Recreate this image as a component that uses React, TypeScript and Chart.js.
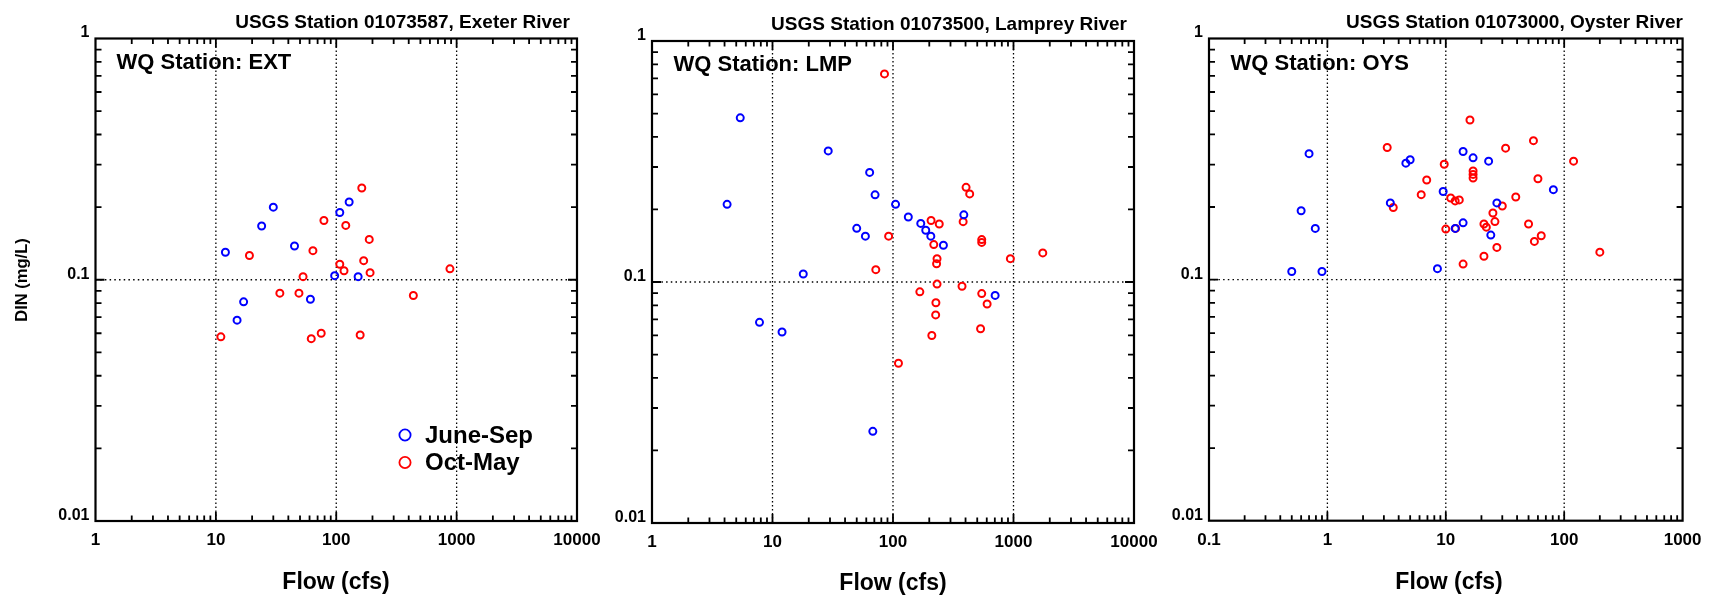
import React, { useEffect, useRef } from 'react';
import { Chart, registerables } from 'chart.js';

Chart.register(...registerables);

// ---------------- Data ----------------
// Exeter River (WQ station EXT)
const extJuneSepFlow = [12, 30, 24, 45, 107, 128, 97, 152, 17, 15, 61];
const extJuneSepDin = [0.13, 0.2, 0.167, 0.138, 0.19, 0.21, 0.104, 0.103, 0.081, 0.068, 0.083];
const extOctMayFlow = [163, 79, 120, 188, 19, 64, 107, 169, 116, 191, 53, 880, 34, 49, 437, 11, 62, 75, 158];
const extOctMayDin = [0.24, 0.176, 0.168, 0.147, 0.126, 0.132, 0.116, 0.12, 0.109, 0.107, 0.103, 0.111, 0.088, 0.088, 0.086, 0.058, 0.057, 0.06, 0.059];

// Lamprey River (WQ station LMP)
const lmpJuneSepFlow = [5.4, 4.2, 29, 64, 71, 105, 134, 170, 187, 206, 262, 387, 50, 59, 18, 704, 7.8, 12, 68];
const lmpJuneSepDin = [0.48, 0.21, 0.35, 0.285, 0.23, 0.21, 0.186, 0.175, 0.164, 0.155, 0.142, 0.19, 0.167, 0.155, 0.108, 0.088, 0.068, 0.062, 0.024];
const lmpOctMayFlow = [85, 404, 433, 207, 242, 382, 92, 218, 545, 545, 232, 230, 942, 1750, 72, 232, 374, 167, 545, 227, 604, 226, 533, 210, 111];
const lmpOctMayDin = [0.73, 0.247, 0.232, 0.18, 0.174, 0.178, 0.155, 0.143, 0.15, 0.146, 0.125, 0.119, 0.125, 0.132, 0.1125, 0.098, 0.096, 0.091, 0.0895, 0.082, 0.081, 0.073, 0.064, 0.06, 0.046];

// Oyster River (WQ station OYS)
const oysJuneSepFlow = [0.7, 0.6, 0.79, 0.5, 0.9, 3.4, 4.6, 5.0, 9.5, 8.5, 14, 17, 23, 14, 12, 27, 24, 81];
const oysJuneSepDin = [0.333, 0.193, 0.163, 0.108, 0.108, 0.208, 0.304, 0.314, 0.232, 0.111, 0.34, 0.32, 0.31, 0.172, 0.163, 0.208, 0.153, 0.236];
const oysOctMayFlow = [3.2, 3.6, 6.2, 6.9, 9.7, 10, 11, 12, 13, 12.1, 14, 16, 17, 17, 17, 21, 22, 21, 25, 26, 27, 30, 32, 39, 50, 55, 60, 56, 64, 120, 200];
const oysOctMayDin = [0.353, 0.199, 0.225, 0.259, 0.301, 0.162, 0.218, 0.212, 0.214, 0.163, 0.116, 0.459, 0.282, 0.273, 0.264, 0.17, 0.165, 0.125, 0.189, 0.174, 0.136, 0.202, 0.351, 0.22, 0.17, 0.377, 0.262, 0.144, 0.152, 0.31, 0.13];

// Axis ticks
const flowTicksA = [1, 10, 100, 1000, 10000];
const flowTickLabelsA = ['1', '10', '100', '1000', '10000'];
const flowTicksB = [0.1, 1, 10, 100, 1000];
const flowTickLabelsB = ['0.1', '1', '10', '100', '1000'];
const dinTicks = [0.01, 0.1, 1];
const dinTickLabels = ['0.01', '0.1', '1'];

const seriesNames = ['June-Sep', 'Oct-May'];
const seriesColors = ['#0000ff', '#ff0000'];

// ---------------- Layout / style ----------------
const W = 1711;
const H = 597;
const FAMILY = '"Liberation Sans", Arial, Helvetica, sans-serif';

type PanelCfg = {
  title: string;
  wq: string;
  juneFlow: number[];
  juneDin: number[];
  octFlow: number[];
  octDin: number[];
  xTicks: number[];
  xLabels: string[];
  area: { left: number; right: number; top: number; bottom: number };
  yAxisWidth: number;
  titleRight: number;
  titleY: number;
  wqLeft: number;
  wqY: number;
  xTitleX: number;
  xTitleY: number;
  yTitle: boolean;
  legend: boolean;
};

const panels: PanelCfg[] = [
  {
    title: 'USGS Station 01073587, Exeter River',
    wq: 'WQ Station: EXT',
    juneFlow: extJuneSepFlow, juneDin: extJuneSepDin,
    octFlow: extOctMayFlow, octDin: extOctMayDin,
    xTicks: flowTicksA, xLabels: flowTickLabelsA,
    area: { left: 95.5, right: 577, top: 38.5, bottom: 521 },
    yAxisWidth: 95.5,
    titleRight: 570, titleY: 28,
    wqLeft: 116.5, wqY: 69.2,
    xTitleX: 336, xTitleY: 589,
    yTitle: true, legend: true,
  },
  {
    title: 'USGS Station 01073500, Lamprey River',
    wq: 'WQ Station: LMP',
    juneFlow: lmpJuneSepFlow, juneDin: lmpJuneSepDin,
    octFlow: lmpOctMayFlow, octDin: lmpOctMayDin,
    xTicks: flowTicksA, xLabels: flowTickLabelsA,
    area: { left: 652, right: 1134, top: 41, bottom: 523 },
    yAxisWidth: 60,
    titleRight: 1127, titleY: 30,
    wqLeft: 673.5, wqY: 71.3,
    xTitleX: 893, xTitleY: 590,
    yTitle: false, legend: false,
  },
  {
    title: 'USGS Station 01073000, Oyster River',
    wq: 'WQ Station: OYS',
    juneFlow: oysJuneSepFlow, juneDin: oysJuneSepDin,
    octFlow: oysOctMayFlow, octDin: oysOctMayDin,
    xTicks: flowTicksB, xLabels: flowTickLabelsB,
    area: { left: 1209, right: 1689.5, top: 38.5, bottom: 520.7 },
    yAxisWidth: 60,
    titleRight: 1683, titleY: 27.5,
    wqLeft: 1230.5, wqY: 69.5,
    xTitleX: 1449, xTitleY: 589,
    yTitle: false, legend: false,
  },
];

function logSteps(min: number, max: number) {
  const out: { v: number; major: boolean }[] = [];
  let d = min;
  let guard = 0;
  while (d < max * 0.999 && guard < 20) {
    for (let m = 1; m <= 9; m++) out.push({ v: m * d, major: m === 1 });
    d *= 10;
    guard++;
  }
  return out;
}

function makeFramePlugin(cfg: PanelCfg) {
  const xMin = cfg.xTicks[0];
  const xMax = cfg.xTicks[cfg.xTicks.length - 1];
  const yMin = dinTicks[0];
  const yMax = dinTicks[dinTicks.length - 1];
  const xSteps = logSteps(xMin, xMax);
  const ySteps = logSteps(yMin, yMax);
  return {
    id: 'frame',
    beforeDatasetsDraw(chart: any) {
      const { ctx, chartArea: a } = chart;
      const xs = chart.scales.x;
      const ys = chart.scales.y;
      ctx.save();
      ctx.strokeStyle = '#000';
      ctx.lineWidth = 1.3;
      ctx.setLineDash([1.4, 2.6]);
      ctx.beginPath();
      for (const v of cfg.xTicks) {
        const px = xs.getPixelForValue(v);
        if (px <= a.left + 2 || px >= a.right - 2) continue;
        ctx.moveTo(px, a.top);
        ctx.lineTo(px, a.bottom);
      }
      ctx.stroke();
      ctx.setLineDash([1.5, 3.2]);
      ctx.beginPath();
      for (const v of dinTicks) {
        const py = ys.getPixelForValue(v);
        if (py <= a.top + 2 || py >= a.bottom - 2) continue;
        ctx.moveTo(a.left, py);
        ctx.lineTo(a.right, py);
      }
      ctx.stroke();
      ctx.restore();
    },
    afterDatasetsDraw(chart: any) {
      const { ctx, chartArea: a } = chart;
      const xs = chart.scales.x;
      const ys = chart.scales.y;
      ctx.save();
      ctx.strokeStyle = '#000';
      ctx.lineWidth = 1.8;
      ctx.setLineDash([]);
      ctx.beginPath();
      for (const t of xSteps) {
        const px = xs.getPixelForValue(t.v);
        if (px <= a.left + 2 || px >= a.right - 2) continue;
        const len = t.major ? 9 : 5.5;
        ctx.moveTo(px, a.bottom);
        ctx.lineTo(px, a.bottom - len);
        ctx.moveTo(px, a.top);
        ctx.lineTo(px, a.top + len);
      }
      for (const t of ySteps) {
        const py = ys.getPixelForValue(t.v);
        if (py <= a.top + 2 || py >= a.bottom - 2) continue;
        const len = t.major ? 9 : 6;
        ctx.moveTo(a.left, py);
        ctx.lineTo(a.left + len, py);
        ctx.moveTo(a.right, py);
        ctx.lineTo(a.right - len, py);
      }
      ctx.stroke();
      ctx.lineWidth = 2.2;
      ctx.strokeRect(a.left, a.top, a.right - a.left, a.bottom - a.top);
      ctx.restore();
    },
    afterDraw(chart: any) {
      const { ctx } = chart;
      ctx.save();
      ctx.fillStyle = '#000';
      ctx.textBaseline = 'alphabetic';
      // panel title
      ctx.font = `bold 19px ${FAMILY}`;
      ctx.textAlign = 'right';
      ctx.fillText(cfg.title, cfg.titleRight, cfg.titleY);
      // WQ station label
      ctx.font = `bold 22px ${FAMILY}`;
      ctx.textAlign = 'left';
      ctx.fillText(cfg.wq, cfg.wqLeft, cfg.wqY);
      // x axis title
      ctx.font = `bold 23px ${FAMILY}`;
      ctx.textAlign = 'center';
      ctx.fillText('Flow (cfs)', cfg.xTitleX, cfg.xTitleY);
      // y axis title
      if (cfg.yTitle) {
        ctx.save();
        ctx.translate(26.5, 280);
        ctx.rotate(-Math.PI / 2);
        ctx.font = `bold 16.5px ${FAMILY}`;
        ctx.textAlign = 'center';
        ctx.fillText('DIN (mg/L)', 0, 0);
        ctx.restore();
      }
      // legend
      if (cfg.legend) {
        const rows = [
          { cy: 435, base: 442.5 },
          { cy: 462.5, base: 469.5 },
        ];
        rows.forEach((r, i) => {
          ctx.beginPath();
          ctx.strokeStyle = seriesColors[i];
          ctx.lineWidth = 1.8;
          ctx.arc(405, r.cy, 5.6, 0, Math.PI * 2);
          ctx.stroke();
          ctx.fillStyle = '#000';
          ctx.font = `bold 24px ${FAMILY}`;
          ctx.textAlign = 'left';
          ctx.fillText(seriesNames[i], 425, r.base);
        });
      }
      ctx.restore();
    },
  };
}

function Panel({ cfg }: { cfg: PanelCfg }) {
  const ref = useRef<HTMLCanvasElement>(null);
  useEffect(() => {
    const canvas = ref.current;
    if (!canvas) return;
    const xMin = cfg.xTicks[0];
    const xMax = cfg.xTicks[cfg.xTicks.length - 1];
    const xTickFont = { family: FAMILY, size: 17, weight: 'bold' as const };
    const yTickFont = { family: FAMILY, size: 16, weight: 'bold' as const };
    const mk = (fx: number[], fy: number[]) => fx.map((x, i) => ({ x, y: fy[i] }));
    const chart = new Chart(canvas, {
      type: 'scatter',
      data: {
        datasets: [
          {
            label: seriesNames[0],
            data: mk(cfg.juneFlow, cfg.juneDin),
            borderColor: seriesColors[0],
            backgroundColor: 'rgba(0,0,0,0)',
            pointRadius: 3.5,
            pointBorderWidth: 2,
            pointHoverRadius: 3.5,
          },
          {
            label: seriesNames[1],
            data: mk(cfg.octFlow, cfg.octDin),
            borderColor: seriesColors[1],
            backgroundColor: 'rgba(0,0,0,0)',
            pointRadius: 3.5,
            pointBorderWidth: 2,
            pointHoverRadius: 3.5,
          },
        ],
      },
      options: {
        responsive: false,
        animation: false,
        devicePixelRatio: 1,
        events: [],
        layout: {
          padding: {
            left: cfg.area.left - cfg.yAxisWidth,
            right: W - cfg.area.right,
            top: cfg.area.top,
            bottom: 0,
          },
        },
        scales: {
          x: {
            type: 'logarithmic',
            position: 'bottom',
            min: xMin,
            max: xMax,
            afterBuildTicks: (s: any) => {
              s.ticks = cfg.xTicks.map((v) => ({ value: v }));
            },
            afterFit: (s: any) => {
              s.height = H - cfg.area.bottom;
            },
            grid: { display: false, drawTicks: false },
            border: { display: false },
            ticks: {
              autoSkip: false,
              maxRotation: 0,
              minRotation: 0,
              padding: 9.5,
              color: '#000',
              font: xTickFont,
              callback: (_v: any, i: number) => cfg.xLabels[i],
            },
          },
          y: {
            type: 'logarithmic',
            position: 'left',
            min: dinTicks[0],
            max: dinTicks[dinTicks.length - 1],
            afterBuildTicks: (s: any) => {
              s.ticks = dinTicks.map((v) => ({ value: v }));
            },
            afterFit: (s: any) => {
              s.width = cfg.yAxisWidth;
            },
            grid: { display: false, drawTicks: false },
            border: { display: false },
            ticks: {
              autoSkip: false,
              padding: 6,
              labelOffset: -5.5,
              color: '#000',
              font: yTickFont,
              callback: (_v: any, i: number) => dinTickLabels[i],
            },
          },
        },
        plugins: {
          legend: { display: false },
          tooltip: { enabled: false },
          title: { display: false },
        },
      },
      plugins: [makeFramePlugin(cfg)],
    });
    return () => chart.destroy();
  }, [cfg]);
  return (
    <canvas
      ref={ref}
      width={W}
      height={H}
      style={{ position: 'absolute', left: 0, top: 0, width: W, height: H }}
    />
  );
}

export default function App() {
  return (
    <div
      style={{
        position: 'fixed',
        left: 0,
        top: 0,
        width: W,
        height: H,
        background: '#ffffff',
        overflow: 'hidden',
      }}
    >
      {panels.map((p, i) => (
        <Panel key={i} cfg={p} />
      ))}
    </div>
  );
}
